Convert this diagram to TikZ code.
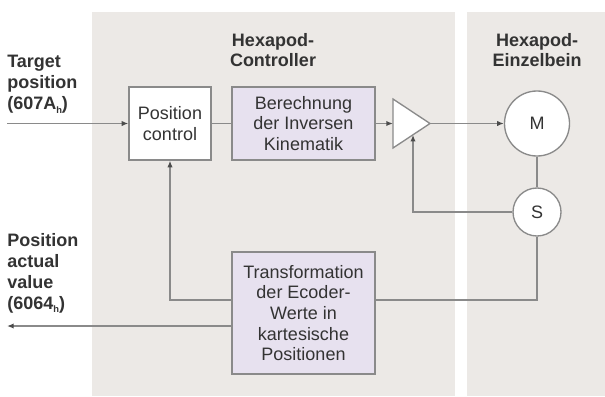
\documentclass[tikz,border=0pt]{standalone}
\usepackage{fontspec}
\setmainfont{Liberation Sans}
\usetikzlibrary{arrows.meta}

\definecolor{panelgray}{HTML}{ECE9E6}
\definecolor{boxlilac}{HTML}{E7E1EF}
\definecolor{linegray}{HTML}{8A8A8A}
\definecolor{textgray}{HTML}{333333}

\newcommand{\hexsub}[1]{\raisebox{-2.5pt}{\fontsize{7}{7}\selectfont #1}}

\begin{document}
\begin{tikzpicture}[x=0.75pt, y=-0.75pt,
  every node/.style={text=textgray, font=\fontsize{13.5}{15.5}\selectfont},
  block/.style={draw=linegray, line width=1pt, align=center, inner sep=0pt},
  calc/.style={block, fill=boxlilac},
  ring/.style={circle, draw=linegray, line width=1pt, fill=white, inner sep=0pt},
  lbl/.style={font=\bfseries\fontsize{13.5}{15.8}\selectfont, align=left, inner sep=0pt, anchor=north west},
  head/.style={font=\bfseries\fontsize{13.5}{15.5}\selectfont, align=center, inner sep=0pt, anchor=north},
  sig/.style={draw=linegray, line width=1pt},
  arr/.style={sig, -{Latex[length=5pt,width=4pt,color=black!70]}}]

  % background and the two panels
  \useasboundingbox (0,0) rectangle (605,396);
  \fill[white] (0,0) rectangle (605,396);
  \fill[panelgray] (92,12) rectangle (455,396);
  \fill[panelgray] (467,12) rectangle (605,396);

  % headings and signal names
  \node[head] (ctl) at (273,33) {Hexapod-\\Controller};
  \node[head] (leg) at (537,33) {Hexapod-\\Einzelbein};
  \node[lbl] (tgt) at (7,55) {Target\\position\\(607A\hexsub{h})};
  \node[lbl] (act) at (7,233) {Position\\actual\\value\\(6064\hexsub{h})};

  % blocks
  \node[block, fill=white, minimum width=61.5pt, minimum height=54.75pt] (pc) at (170,123.5) {Position\\control};
  \node[calc, minimum width=107.25pt, minimum height=54.75pt] (ik) at (303.5,123.5) {Berechnung\\der Inversen\\Kinematik};
  \node[calc, minimum width=107.25pt, minimum height=91.5pt] (tr) at (303.5,313) {Transformation\\der Ecoder-\\Werte in\\kartesische\\Positionen};
  \node[ring, minimum size=48.75pt] (mot) at (537,123.5) {M};
  \node[ring, minimum size=36pt] (sen) at (537,212) {S};

  % amplifier
  \draw[sig, fill=white] (393,99) -- (430,123.5) -- (393,148) -- cycle;
  \coordinate (ampin) at (393,123.5);
  \coordinate (ampout) at (430,123.5);
  \coordinate (ampfb) at (413,134.8);

  % free ends
  \coordinate (tin) at (7,123.5);
  \coordinate (aout) at (7,326);
  \coordinate (trin) at (375,300);
  \coordinate (trfb) at (232,300);

  % signals
  \draw[arr] (tin) -- (pc);
  \draw[sig] (pc) -- (ik);
  \draw[arr] (ik) -- (ampin);
  \draw[arr] (ampout) -- (mot);
  \draw[sig] (mot) -- (sen);
  \draw[arr] (sen.west) -| (ampfb);
  \draw[sig] (sen) |- (trin);
  \draw[arr] (trfb) -| (pc.south);
  \draw[arr] (tr.west |- aout) -- (aout);
\end{tikzpicture}
\end{document}
